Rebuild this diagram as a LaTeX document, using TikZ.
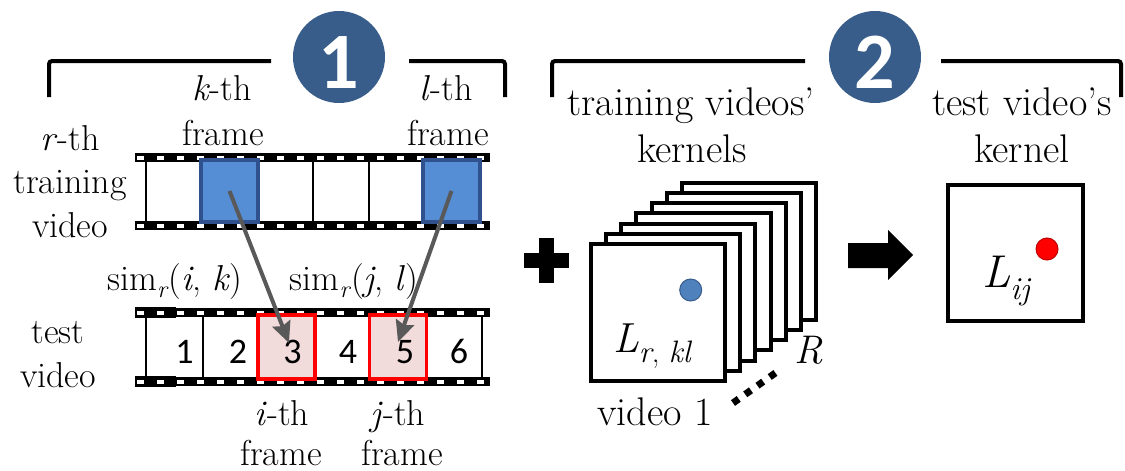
\documentclass[tikz,border=0pt]{standalone}
\usepackage{fontspec}
\newcommand\tmsfont{\rmfamily}
\newfontfamily\numfont{Carlito}
\usetikzlibrary{arrows.meta}

\definecolor{stepblue}{RGB}{56,93,138}
\definecolor{framefill}{RGB}{85,142,213}
\definecolor{frameedge}{RGB}{47,82,143}
\definecolor{pinkfill}{RGB}{242,220,219}
\definecolor{arrowgray}{RGB}{89,89,89}
\definecolor{dotblue}{RGB}{79,129,189}
\definecolor{dotred}{RGB}{255,0,0}

\newcommand\lowsub[3]{\raisebox{-#1}{\fontsize{#2}{#2}\selectfont #3}}

\tikzset{
  lbl/.style={inner sep=0pt, anchor=base, font=\tmsfont\fontsize{36}{43}\selectfont},
  rlbl/.style={inner sep=0pt, anchor=base, font=\tmsfont\fontsize{40}{48}\selectfont},
  mathlbl/.style={inner sep=0pt, anchor=base west, font=\tmsfont},
  bracketline/.style={line width=4pt, rounded corners=3pt},
  stepcircle/.style={circle, fill=stepblue, minimum size=92pt, inner sep=0pt,
    text=white, font=\numfont\bfseries\fontsize{80}{80}\selectfont,
    text height=62pt, text depth=0pt},
  band/.style={fill=black},
  hole/.style={fill=white},
  divider/.style={line width=2pt},
  kframe/.style={rectangle, fill=framefill, draw=frameedge, line width=3.5pt,
    minimum width=57pt, minimum height=62pt, inner sep=0pt},
  tframe/.style={rectangle, fill=pinkfill, draw=dotred, line width=3.5pt,
    minimum width=57pt, minimum height=64pt, inner sep=0pt},
  framenum/.style={inner sep=0pt, anchor=base, font=\numfont\fontsize{36}{36}\selectfont},
  simarrow/.style={draw=arrowgray, line width=4pt,
    -{Stealth[length=21pt,width=19pt,inset=3pt]}},
  kernelsq/.style={draw=black, fill=white, line width=4pt},
  kernelbox/.style={rectangle, draw=black, fill=white, line width=4pt,
    minimum width=135pt, minimum height=136pt, inner sep=0pt},
  entrydot/.style={circle, minimum size=22pt, inner sep=0pt, line width=1pt},
}

\begin{document}
\begin{tikzpicture}[x=1pt,y=-1pt]
\useasboundingbox (0,0) rectangle (1125,471);
\fill[white] (0,0) rectangle (1125,471);

% ---------- step brackets and circles ----------
\draw[bracketline] (49,97) -- (49,61) -- (271,61);
\draw[bracketline] (409,61) -- (505,61) -- (505,97);
\node[stepcircle] (step1) at (339,57) {1};

\draw[bracketline] (552,97) -- (552,61) -- (805,61);
\draw[bracketline] (941,61) -- (1121,61) -- (1121,97);
\node[stepcircle] (step2) at (875,57) {2};

% ---------- left labels ----------
\node[lbl] (rth1) at (70,150) {\textit{r}-th};
\node[lbl] (rth2) at (70,193) {training};
\node[lbl] (rth3) at (70,237) {video};

\node[lbl] (kth1) at (222,100) {\textit{k}-th};
\node[lbl] (kth2) at (223,145) {frame};
\node[lbl] (lth1) at (446,100) {\textit{l}-th};
\node[lbl] (lth2) at (448,145) {frame};

% ---------- training film strip ----------
\fill[white] (135,153) rectangle (490,230);
\fill[band] (135,153) rectangle (490,162);
\fill[band] (135,221) rectangle (490,230);
\foreach \k in {0,...,17} {
  \fill[hole] ({137+20*\k},155.5) rectangle ({144+20*\k},159.5);
  \fill[hole] ({137+20*\k},223.5) rectangle ({144+20*\k},227.5);
}
\foreach \x in {146,202,258,313,369,424,480}
  \draw[divider] (\x,162) -- (\x,221);
\node[kframe] (kbox) at (229.5,191) {};
\node[kframe] (lbox) at (451.5,191) {};

% ---------- similarity labels ----------
\node[lbl] (simik) at (175,290) {sim\lowsub{7pt}{24}{\textit{r}}(\textit{i}, \textit{k})};
\node[lbl] (simjl) at (354,290) {sim\lowsub{7pt}{24}{\textit{r}}(\textit{j}, \textit{l})};

% ---------- test labels ----------
\node[lbl] (tv1) at (58,343) {test};
\node[lbl] (tv2) at (58,387) {video};

% ---------- test film strip ----------
\fill[white] (135,308) rectangle (490,386);
\fill[band] (135,308) rectangle (490,317);
\fill[band] (135,377) rectangle (490,386);
\fill[band] (135,307) rectangle (176,318);
\fill[band] (135,376) rectangle (176,387);
\foreach \k in {0,...,17} {
  \fill[hole] ({137+20*\k},310.5) rectangle ({144+20*\k},314.5);
  \fill[hole] ({137+20*\k},379.5) rectangle ({144+20*\k},383.5);
}
\foreach \x in {146,203,258,315,369,427,482}
  \draw[divider] (\x,317) -- (\x,377);
\node[tframe] (ibox) at (286.4,347) {};
\node[tframe] (jbox) at (398,347) {};

\node[framenum] (n1) at (184.5,363) {1};
\node[framenum] (n2) at (238,363) {2};
\node[framenum] (n3) at (292.5,363) {3};
\node[framenum] (n4) at (348,363) {4};
\node[framenum] (n5) at (405,363) {5};
\node[framenum] (n6) at (459,363) {6};

\node[lbl] (ith1) at (282,425) {\textit{i}-th};
\node[lbl] (ith2) at (281,465) {frame};
\node[lbl] (jth1) at (398,425) {\textit{j}-th};
\node[lbl] (jth2) at (402,465) {frame};

% ---------- similarity arrows ----------
\coordinate (tipi) at (289,343);
\coordinate (tipj) at (398,342);
\draw[simarrow] (kbox.center) -- (tipi);
\draw[simarrow] (lbox.center) -- (tipj);

% ---------- plus sign ----------
\fill[black] (539,238) rectangle (554,283);
\fill[black] (524,253) rectangle (569,268);

% ---------- training kernels stack ----------
\node[rlbl] (tk1) at (691,115) {training videos’};
\node[rlbl] (tk2) at (692,162) {kernels};
\foreach \i in {6,5,...,1}
  \draw[kernelsq] ({590.7+15.2*\i},{244-10.2*\i}) rectangle ++(134.3,137);
\node[kernelbox, minimum width=134.3pt, minimum height=137pt] (kfront) at (657.85,312.5) {};
\node[entrydot, fill=dotblue, draw=stepblue] (bdot) at (690.7,290) {};
\node[mathlbl] (lrkl) at (613,352)
  {\fontsize{42}{42}\selectfont\textit{L}\lowsub{10pt}{31}{\textit{r}, \textit{kl}}};
\node[rlbl] (v1) at (655,425) {video 1};
\coordinate (dotsA) at (733,403);
\coordinate (dotsB) at (781,369);
\draw[line width=7pt, dash pattern=on 7pt off 8pt] (dotsA) -- (dotsB);
\node[rlbl] (bigR) at (809,363) {\textit{R}};

% ---------- block arrow ----------
\fill[black] (848,243) -- (888,243) -- (888,230) -- (913,255) -- (888,280)
  -- (888,268) -- (848,268) -- cycle;

% ---------- test kernel ----------
\node[rlbl] (tkk1) at (1022,115) {test video’s};
\node[rlbl] (tkk2) at (1022,162) {kernel};
\node[kernelbox] (ktest) at (1015.5,253) {};
\node[entrydot, fill=dotred, draw=red!75!black] (rdot) at (1047,249) {};
\node[mathlbl] (lij) at (982,287)
  {\fontsize{46}{46}\selectfont\textit{L}\lowsub{12pt}{32}{\textit{ij}}};
\end{tikzpicture}
\end{document}
